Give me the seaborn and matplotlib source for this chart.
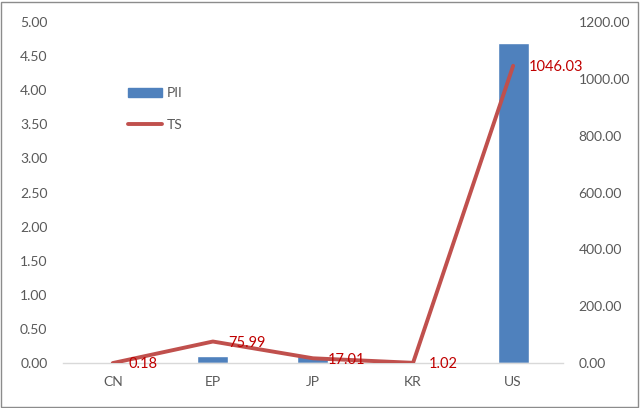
import matplotlib
matplotlib.use("Agg")
import matplotlib.pyplot as plt
import seaborn as sns
import pandas as pd
from matplotlib.patches import Rectangle
from matplotlib.lines import Line2D

categories = ["CN", "EP", "JP", "KR", "US"]
pii_values = [0.0, 0.10, 0.11, 0.0, 4.69]
ts_values = [0.18, 75.99, 17.01, 1.02, 1046.03]
left_ticks = [0, 0.5, 1.0, 1.5, 2.0, 2.5, 3.0, 3.5, 4.0, 4.5, 5.0]
right_ticks = [0, 200, 400, 600, 800, 1000, 1200]

df = pd.DataFrame({"cat": categories, "PII": pii_values, "TS": ts_values})

sns.set_style("white")
plt.rcParams["font.family"] = ["Lato", "DejaVu Sans"]

bar_color = "#4F81BD"
line_color = "#C0504D"
label_color = "#C00000"
tick_color = "#595959"

fig = plt.figure(figsize=(6.4, 4.08), dpi=100)
ax = fig.add_axes([0.098, 0.110, 0.782, 0.836])

sns.barplot(data=df, x="cat", y="PII", color=bar_color, width=0.31,
            saturation=1, ax=ax)
ax.set_ylim(0, 5)
ax.set_yticks(left_ticks)
ax.set_yticklabels([f"{v:.2f}" for v in left_ticks])
ax.set_xlim(-0.5, 4.5)

ax2 = ax.twinx()
sns.lineplot(data=df, x="cat", y="TS", color=line_color, linewidth=2.8,
             sort=False, ax=ax2)
ax2.set_ylim(0, 1200)
ax2.set_yticks(right_ticks)
ax2.set_yticklabels([f"{v:.2f}" for v in right_ticks])
ax2.set_xlim(-0.5, 4.5)

for i, v in enumerate(ts_values):
    ax2.annotate(f"{v:.2f}", (i, v), xytext=(11, -1), textcoords="offset points",
                 ha="left", va="center", color=label_color, fontsize=10.5)

for a in (ax, ax2):
    a.set_xlabel("")
    a.set_ylabel("")
    for s in a.spines.values():
        s.set_visible(False)
    a.tick_params(axis="both", length=0, colors=tick_color, labelsize=10)
    a.tick_params(axis="y", pad=11)
    a.tick_params(axis="x", pad=9)
    a.grid(False)

ax.spines["bottom"].set_visible(True)
ax.spines["bottom"].set_color("#D9D9D9")
ax.spines["bottom"].set_linewidth(1.0)

handles = [Rectangle((0, 0), 1, 1, color=bar_color),
           Line2D([0], [0], color=line_color, linewidth=2.8)]
leg = ax.legend(handles, ["PII", "TS"], loc="upper left",
                bbox_to_anchor=(0.105, 0.845), frameon=False, fontsize=10,
                handlelength=2.5, handleheight=0.6, labelspacing=1.4,
                handletextpad=0.3)
for t in leg.get_texts():
    t.set_color(tick_color)

fig.patches.append(Rectangle((0.002, 0.003), 0.995, 0.993, transform=fig.transFigure,
                             fill=False, edgecolor="#8C8C8C", linewidth=1.0))

fig.savefig("out.png", dpi=100)
